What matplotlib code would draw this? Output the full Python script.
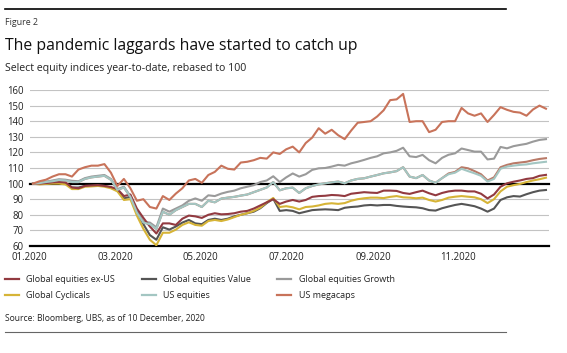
import numpy as np
import matplotlib.pyplot as plt
from matplotlib.lines import Line2D

plt.rcParams['font.family'] = ['Open Sans', 'DejaVu Sans']

W, H = 567, 353

# trading days since start of 2020, every 3rd day
day = np.arange(80) * 3

ex_us = [100, 100, 100.3, 100.8, 101, 100.8, 97.5, 97, 98.5, 98.8,
         99, 98.5, 97.8, 96.5, 92, 93, 84, 78, 72.5, 68,
         74.5, 74.5, 73.5, 77.5, 79.5, 79, 78, 80, 81, 80.3,
         80.5, 81, 82, 82.5, 84, 86, 88, 90, 87, 88.5,
         89.5, 88.5, 89.5, 91.5, 92, 92.2, 92.7, 92.5, 92, 93.5,
         94, 94.5, 94.2, 94, 95.5, 95.5, 95.3, 94, 93.4, 94.5,
         95.5, 93.8, 92.5, 94, 95, 95.5, 95.5, 95, 95, 93.5,
         90.5, 93, 98, 100.2, 101.2, 102, 103, 103.5, 105, 105.6]

value = [100, 100, 100.2, 100.5, 100.5, 100, 97.5, 97.5, 98.5, 98.5,
         98.8, 98.5, 97.5, 95.5, 90.5, 91.5, 82, 74, 67, 64,
         72, 70.5, 72.5, 75, 76.7, 74.5, 74, 76.7, 77.5, 76.7,
         77.5, 79, 80, 81, 82, 84.2, 87.5, 90.3, 82.5, 83,
         82.5, 81, 82, 83, 83.3, 83.5, 83.3, 83, 84.5, 85,
         85.3, 86, 86.3, 86, 86.3, 86.3, 85.7, 85.3, 85, 84.8,
         84.2, 83, 82.7, 84.2, 85.3, 86.3, 87, 86.3, 85.5, 84,
         82, 84, 89.5, 91.2, 92, 91.7, 93.2, 94.5, 95.5, 95.9]

growth = [100, 100.5, 101.2, 102, 102.8, 102.5, 101.8, 101.5, 103.5, 104.5,
          105, 105.5, 103, 96.5, 98, 92, 83, 75.6, 75, 72,
          84, 82, 84, 86, 89, 90.5, 89, 92.5, 92, 93.6,
          94.7, 95.5, 97, 98, 99, 101, 102, 104.7, 101, 104,
          106.5, 104.5, 106, 108.8, 109.8, 110, 110.9, 112, 111.5, 113,
          114, 115.2, 116.5, 117.5, 119.4, 120, 121, 123, 117.5, 117,
          118.4, 115, 113, 116.5, 118.5, 119.4, 122.5, 121.5, 120.5, 120.5,
          115.5, 116, 123.5, 122.6, 124, 124.8, 125.5, 126.9, 128, 128.5]

cyclicals = [100, 99.5, 99.8, 100, 100, 99.5, 96.5, 96.5, 98, 98.2,
             98.5, 98, 97, 95, 89.5, 90, 79.5, 71, 64, 60.5,
             68.5, 68.5, 70.5, 73.5, 75.2, 73.5, 73, 76, 76.7, 76,
             77, 78.5, 80, 81, 82.5, 84.6, 88, 90.8, 85, 85.5,
             84.8, 83.5, 85, 85.3, 86, 87, 87.4, 87, 87.5, 89,
             90, 90.6, 91, 91, 90.7, 91.5, 92, 91.2, 91, 90.6,
             91, 89.5, 88.5, 89.5, 91, 91.6, 92, 91.6, 91.2, 90,
             87.5, 90, 95, 98, 99, 99.8, 101, 102, 102.8, 103.8]

us_eq = [100, 100.3, 101, 101.5, 102.3, 102, 101, 101, 103, 104,
         104.5, 105, 102.5, 96, 97.5, 91.5, 81.5, 75, 74, 71,
         82, 80, 83, 85, 87, 87, 85, 89, 88, 90.4,
         91, 91.5, 92.3, 93, 94.5, 96, 97.5, 101, 95.7, 97,
         97.4, 94, 97, 98.5, 99.5, 100.2, 100.8, 101.3, 100.2, 102,
         103, 103.4, 104.5, 105.5, 106.6, 107.2, 108, 110.5, 104.5, 103.5,
         105.5, 102, 100.5, 103.5, 106, 107, 109.5, 108, 106.6, 105,
         101.3, 103, 109.5, 110.9, 111.5, 112, 112.3, 113, 113.5, 114]

# unlabelled brownish line hiding under US equities, shows from October
us_other = us_eq[:64] + [106.5, 107.5, 110.5, 109.8, 108, 106, 102, 104,
                         110.5, 112, 113, 113.5, 114, 115, 115.8, 116.3]

megacaps = [100, 101.5, 102.5, 104.5, 106, 106, 104.5, 109, 110.5, 111.5,
            111.5, 112.5, 107, 98.5, 103, 97, 89, 90, 85, 84,
            92, 89.5, 93.6, 97, 102, 103, 100.5, 105.5, 107.5, 111.5,
            109.5, 109, 113.5, 114, 115, 116.5, 116, 120, 119, 122,
            123.7, 120, 126, 129.5, 135.5, 132, 134.5, 131, 128.5, 134,
            139, 139.5, 140, 143, 147, 153.5, 154, 157.5, 139.5, 140,
            140, 133, 134.5, 139.5, 140, 140, 148.5, 145, 143.5, 145,
            139.5, 144, 149, 147.3, 146, 145.5, 143.5, 147.5, 150, 148]

tick_pos = [-1.5, 38, 77.5, 117, 157, 196.5]
tick_lab = ['01.2020', '03.2020', '05.2020', '07.2020', '09.2020', '11.2020']
y_ticks = list(range(60, 161, 10))

series = [
    ('Global equities ex-US', ex_us, '#923a40'),
    ('Global Cyclicals', cyclicals, '#d6b437'),
    ('Global equities Value', value, '#555555'),
    ('US equities', us_eq, '#a3c6c2'),
    ('Global equities Growth', growth, '#9a9a9a'),
    ('US megacaps', megacaps, '#c8735a'),
]

fig = plt.figure(figsize=(W / 100, H / 100), dpi=100)
ax = fig.add_axes([29.75 / W, 1 - 246 / H, (549 - 29.75) / W, 156 / H])

for yv in y_ticks:
    if yv in (60, 100):
        ax.axhline(yv, color='black', lw=1.6, zorder=2, clip_on=False)
    else:
        ax.axhline(yv, color='#c3c3c3', lw=0.8, zorder=1)

ax.plot(day, us_other, color='#b97a68', lw=1.5, zorder=3)
ax.plot(day, growth, color='#9a9a9a', lw=1.5, zorder=3)
ax.plot(day, value, color='#555555', lw=1.5, zorder=3)
ax.plot(day, cyclicals, color='#d6b437', lw=1.5, zorder=3)
ax.plot(day, ex_us, color='#923a40', lw=1.5, zorder=3)
ax.plot(day, us_eq, color='#a3c6c2', lw=1.5, zorder=3)
ax.plot(day, megacaps, color='#c8735a', lw=1.5, zorder=3)

ax.set_xlim(-1.5, 238.4)
ax.set_ylim(60, 160)
ax.set_xticks(tick_pos)
ax.set_xticklabels(tick_lab)
ax.set_yticks(y_ticks)
ax.tick_params(length=0, labelsize=6.9, colors='#222222')
ax.tick_params(axis='x', pad=4.5)
ax.tick_params(axis='y', pad=4.5)
for s in ax.spines.values():
    s.set_visible(False)

# header
fig.add_artist(Line2D([5 / W, 506 / W], [1 - 8.5 / H] * 2, color='black', lw=1.2))
fig.text(5 / W, 1 - 25.3 / H, 'Figure 2', fontsize=6.4, color='#333333', va='baseline')
fig.text(5 / W, 1 - 50.5 / H, 'The pandemic laggards have started to catch up',
         fontsize=11.35, color='#111111', va='baseline')
fig.text(5 / W, 1 - 70.7 / H, 'Select equity indices year-to-date, rebased to 100',
         fontsize=7.6, color='#222222', va='baseline')

# legend, 3 columns x 2 rows
col_x = [5, 141.7, 277.3]
row_y = [279.3, 295]
for i, (lab, _, c) in enumerate(series):
    cx = col_x[i // 2]
    ry = row_y[i % 2]
    fig.add_artist(Line2D([cx / W, (cx + 14) / W], [1 - ry / H] * 2, color=c, lw=1.6))
    fig.text((cx + 21.5) / W, 1 - ry / H, lab, fontsize=6.5, color='#222222', va='center')

fig.text(5 / W, 1 - 320.7 / H, 'Source: Bloomberg, UBS, as of 10 December, 2020',
         fontsize=6.15, color='#222222', va='baseline')
fig.add_artist(Line2D([5 / W, 506 / W], [1 - 332.3 / H] * 2, color='#666666', lw=0.8))

fig.savefig('out.png', dpi=100)
